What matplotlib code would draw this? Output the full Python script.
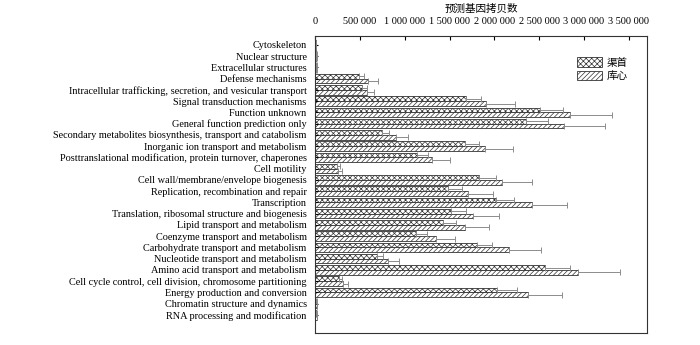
import numpy as np
import matplotlib
matplotlib.use('Agg')
import matplotlib.pyplot as plt
from matplotlib.ticker import FuncFormatter

plt.rcParams['font.family'] = ['Liberation Serif', 'Noto Sans CJK SC']
plt.rcParams['hatch.linewidth'] = 0.5

categories = [
    'Cytoskeleton', 'Nuclear structure', 'Extracellular structures',
    'Defense mechanisms',
    'Intracellular trafficking, secretion, and vesicular transport',
    'Signal transduction mechanisms', 'Function unknown',
    'General function prediction only',
    'Secondary metabolites biosynthesis, transport and catabolism',
    'Inorganic ion transport and metabolism',
    'Posttranslational modification, protein turnover, chaperones',
    'Cell motility', 'Cell wall/membrane/envelope biogenesis',
    'Replication, recombination and repair', 'Transcription',
    'Translation, ribosomal structure and biogenesis',
    'Lipid transport and metabolism', 'Coenzyme transport and metabolism',
    'Carbohydrate transport and metabolism',
    'Nucleotide transport and metabolism',
    'Amino acid transport and metabolism',
    'Cell cycle control, cell division, chromosome partitioning',
    'Energy production and conversion', 'Chromatin structure and dynamics',
    'RNA processing and modification',
]

# 渠首 (upper bar) and 库心 (lower bar), with top of error bar
qushou = [10000, 12000, 12000, 493000, 520000, 1682000, 2513000, 2357000,
          750000, 1670000, 1139000, 249000, 1830000, 1485000, 2023000,
          1515000, 1429000, 1125000, 1807000, 687000, 2561000, 271000,
          2030000, 15000, 15000]
qushou_err = [5000, 5000, 5000, 52000, 56000, 167000, 252000, 241000,
              78000, 160000, 123000, 29000, 193000, 156000, 193000,
              167000, 141000, 126000, 168000, 74000, 279000, 26000,
              223000, 3000, 3000]
kuxin = [10000, 12000, 12000, 594000, 576000, 1912000, 2847000, 2777000,
         898000, 1901000, 1300000, 260000, 2086000, 1707000, 2417000,
         1763000, 1678000, 1347000, 2164000, 816000, 2932000, 315000,
         2375000, 18000, 18000]
kuxin_err = [5000, 5000, 5000, 104000, 81000, 319000, 468000, 456000,
             141000, 308000, 211000, 37000, 338000, 279000, 397000,
             290000, 263000, 212000, 360000, 123000, 472000, 56000,
             379000, 3000, 3000]

y = np.arange(len(categories))
h = 0.42

fig, ax = plt.subplots(figsize=(7, 3.45), dpi=100)
fig.subplots_adjust(left=0.45, right=0.924, top=0.896, bottom=0.035)

ekw = dict(ecolor='#8c8c8c', elinewidth=0.7, capsize=2, capthick=0.7)
ax.barh(y - h / 2, qushou, height=h, color='white', edgecolor='#333333',
        linewidth=0.6, hatch='xxxxxx', label='渠首',
        xerr=[np.zeros(len(y)), qushou_err], error_kw=ekw)
ax.barh(y + h / 2, kuxin, height=h, color='white', edgecolor='#333333',
        linewidth=0.6, hatch='///////', label='库心',
        xerr=[np.zeros(len(y)), kuxin_err], error_kw=ekw)

ax.set_yticks(y)
ax.set_yticklabels(categories, fontsize=7.4)
ax.set_ylim(25.6, -0.8)
ax.set_xlim(0, 3700000)
ax.set_xticks(np.arange(0, 3500001, 500000))
ax.xaxis.set_major_formatter(FuncFormatter(lambda v, p: f'{int(v):,}'.replace(',', ' ')))
ax.xaxis.tick_top()
ax.xaxis.set_label_position('top')
ax.tick_params(axis='x', direction='in', labelsize=7.4, length=3, pad=7)
ax.tick_params(axis='y', direction='in', length=2, pad=6)
ax.set_xlabel('预测基因拷贝数', fontsize=7.6, labelpad=4,
              family=['Noto Sans CJK SC'])
for s in ax.spines.values():
    s.set_linewidth(0.8)
    s.set_color('#333333')

leg = ax.legend(loc='upper right', bbox_to_anchor=(0.97, 0.96), frameon=False,
                prop={'family': 'Noto Sans CJK SC', 'size': 7.6},
                handlelength=2.4, handleheight=1.0, labelspacing=0.3,
                handletextpad=0.4)

plt.savefig('out.png', dpi=100)
